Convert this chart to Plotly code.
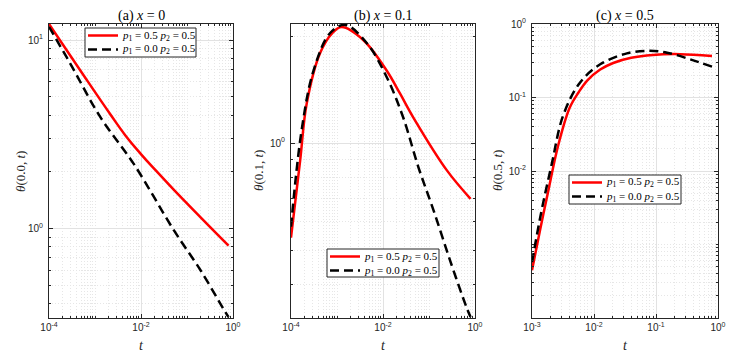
import plotly.graph_objects as go

# (a) x = 0
a_red_t = [1e-4, 4.76e-4, 2.15e-3, 4.58e-3, 9.75e-3, 2.07e-2, 5.13e-2, 0.2, 0.8]
a_red = [12.17, 6.92, 4.04, 3.12, 2.50, 2.04, 1.61, 1.144, 0.812]
a_blk_t = [1e-4, 2.88e-4, 1.30e-3, 6.9e-3, 5.25e-2, 0.2, 0.596, 0.8]
a_blk = [11.75, 7.52, 3.91, 2.21, 0.975, 0.598, 0.381, 0.339]

# (b) x = 0.1
b_red_t = [1e-4, 1.58e-4, 2.19e-4, 4.27e-4, 7.9e-4, 1.26e-3, 3.72e-3, 1.2e-2, 2.34e-2, 4.57e-2, 0.245, 0.8]
b_red = [0.542, 0.893, 1.29, 1.79, 2.04, 2.12, 1.95, 1.60, 1.379, 1.18, 0.838, 0.697]
b_blk_t = [1e-4, 1.70e-4, 3.09e-4, 7.08e-4, 1.51e-3, 4.47e-3, 1.2e-2, 2.75e-2, 5.89e-2, 0.126, 0.288, 0.66, 0.8]
b_blk = [0.582, 1.086, 1.60, 2.04, 2.15, 1.91, 1.535, 1.18, 0.855, 0.646, 0.467, 0.344, 0.324]

# (c) x = 0.5
c_red_t = [1e-3, 1.35e-3, 1.80e-3, 2.63e-3, 4.05e-3, 5.62e-3, 7.76e-3, 1.26e-2, 2.04e-2, 3.98e-2, 8.91e-2, 0.245, 0.8]
c_red = [4.47e-4, 1.58e-3, 5.01e-3, 2.19e-2, 7.24e-2, 0.117, 0.170, 0.240, 0.295, 0.347, 0.380, 0.389, 0.367]
c_blk_t = [1e-3, 1.41e-3, 2.09e-3, 3.16e-3, 5.89e-3, 1.26e-2, 3.39e-2, 7.94e-2, 0.151, 0.355, 0.8]
c_blk = [5.75e-4, 2.75e-3, 1.26e-2, 5.6e-2, 0.158, 0.283, 0.398, 0.432, 0.407, 0.331, 0.263]

titles = ["(a) <i>x</i> = 0", "(b) <i>x</i> = 0.1", "(c) <i>x</i> = 0.5"]
ylabels = ["<i>θ</i>(0.0, <i>t</i>)", "<i>θ</i>(0.1, <i>t</i>)", "<i>θ</i>(0.5, <i>t</i>)"]
name_red = "<i>p</i><sub>1</sub> = 0.5 <i>p</i><sub>2</sub> = 0.5"
name_blk = "<i>p</i><sub>1</sub> = 0.0 <i>p</i><sub>2</sub> = 0.5"

x_ticks_ab = [1e-4, 1e-2, 1]
x_text_ab = ["10<sup>-4</sup>", "10<sup>-2</sup>", "10<sup>0</sup>"]
x_ticks_c = [1e-3, 1e-2, 1e-1, 1]
x_text_c = ["10<sup>-3</sup>", "10<sup>-2</sup>", "10<sup>-1</sup>", "10<sup>0</sup>"]
y_ticks_a = [1, 10]
y_text_a = ["10<sup>0</sup>", "10<sup>1</sup>"]
y_ticks_b = [1]
y_text_b = ["10<sup>0</sup>"]
y_ticks_c = [1e-2, 1e-1, 1]
y_text_c = ["10<sup>-2</sup>", "10<sup>-1</sup>", "10<sup>0</sup>"]


def minor_vals(lo, hi, skip):
    vals = []
    for e in range(-5, 2):
        for k in range(1, 10):
            v = k * 10.0 ** e
            if lo <= v <= hi and not any(abs(v - s) / s < 1e-9 for s in skip):
                vals.append(v)
    return vals


SERIF = "Liberation Serif"
SANS = "Liberation Sans"
AX = "#262626"
RED = "#ff0000"
DASH = "9px,5px"

# the page body has an 8px margin, so the figure is drawn 8px smaller and
# every position below is given in window pixels and shifted here
OFF = 8
W, H = 735 - OFF, 356 - OFF


def px(x):
    return (x - OFF) / W


def py(y):
    return 1 - (y - OFF) / H


fig = go.Figure()

panels = [
    (a_red_t, a_red, a_blk_t, a_blk),
    (b_red_t, b_red, b_blk_t, b_blk),
    (c_red_t, c_red, c_blk_t, c_blk),
]
for i, (rt, ry, bt, by) in enumerate(panels):
    n = "" if i == 0 else str(i + 1)
    fig.add_trace(go.Scatter(x=rt, y=ry, mode="lines", name=name_red, showlegend=False,
                             line=dict(color=RED, width=2.5, shape="spline",
                                       smoothing=1.3 if i == 0 else 1.0),
                             xaxis="x" + n, yaxis="y" + n))
    fig.add_trace(go.Scatter(x=bt, y=by, mode="lines", name=name_blk, showlegend=False,
                             line=dict(color="black", width=2.5, dash=DASH, shape="spline"),
                             xaxis="x" + n, yaxis="y" + n))

x_px = [(49, 233), (291, 475), (532, 718)]
x_domains = [[px(a), px(b)] for a, b in x_px]
y_domain = [py(318), py(24)]
x_ranges = [[-4, 0], [-4, 0], [-3, 0]]
y_ranges = [[-0.474, 1.085], [-0.492, 0.335], [-4, 0]]
x_tv = [(x_ticks_ab, x_text_ab), (x_ticks_ab, x_text_ab), (x_ticks_c, x_text_c)]
y_tv = [(y_ticks_a, y_text_a), (y_ticks_b, y_text_b), (y_ticks_c, y_text_c)]

common = dict(type="log", showline=True, linecolor=AX, linewidth=1, mirror="ticks",
              ticks="inside", ticklen=4, tickcolor=AX, zeroline=False, automargin=False,
              gridcolor="#e2e2e2", gridwidth=1,
              tickfont=dict(family=SANS, size=10, color=AX))

layout = {}
for i in range(3):
    n = "" if i == 0 else str(i + 1)
    xr, yr = x_ranges[i], y_ranges[i]
    xmin = minor_vals(10 ** xr[0], 10 ** xr[1], x_tv[i][0])
    ymin = minor_vals(10 ** yr[0], 10 ** yr[1], y_tv[i][0])
    minor = dict(ticks="inside", ticklen=2, tickcolor=AX, showgrid=True,
                 gridcolor="#e6e6e6", griddash="1px,2px", gridwidth=1)
    layout["xaxis" + n] = dict(common, domain=x_domains[i], range=xr, anchor="y" + n,
                               tickmode="array", tickvals=x_tv[i][0], ticktext=x_tv[i][1],
                               minor=dict(minor, tickmode="array", tickvals=xmin))
    layout["yaxis" + n] = dict(common, domain=y_domain, range=yr, anchor="x" + n,
                               tickmode="array", tickvals=y_tv[i][0], ticktext=y_tv[i][1],
                               minor=dict(minor, tickmode="array", tickvals=ymin),
                               ticklabelstandoff=3)

annotations = []
shapes = []
ylab_x = [20, 258, 497]
for i in range(3):
    cx = (x_px[i][0] + x_px[i][1]) / 2
    annotations.append(dict(text=titles[i], x=px(cx), y=py(16), xref="paper", yref="paper",
                            xanchor="center", yanchor="middle", showarrow=False,
                            font=dict(family=SERIF, size=14, color="black")))
    annotations.append(dict(text="<i>t</i>", x=px(cx), y=py(345), xref="paper", yref="paper",
                            xanchor="center", yanchor="middle", showarrow=False,
                            font=dict(family=SERIF, size=14, color=AX)))
    annotations.append(dict(text=ylabels[i], x=px(ylab_x[i]), y=py(171), xref="paper",
                            yref="paper", xanchor="center", yanchor="middle", showarrow=False,
                            textangle=-90, font=dict(family=SERIF, size=13, color=AX)))

# legend boxes: (left, top, right, bottom) in window pixels
legend_boxes = [(85, 28, 196, 57), (327, 249, 439, 277), (569, 175, 681, 204)]
for (l, t, r, b) in legend_boxes:
    shapes.append(dict(type="rect", xref="paper", yref="paper", x0=px(l), x1=px(r),
                       y0=py(b), y1=py(t), line=dict(color=AX, width=1), fillcolor="white",
                       layer="above"))
    rows = [(t + 7.5, RED, "solid", name_red), (t + 21.5, "black", DASH, name_blk)]
    for yy, col, dash, txt in rows:
        shapes.append(dict(type="line", xref="paper", yref="paper", x0=px(l + 3), x1=px(l + 33),
                           y0=py(yy), y1=py(yy), line=dict(color=col, width=2.5, dash=dash),
                           layer="above"))
        annotations.append(dict(text=txt, x=px(l + 35), y=py(yy), xref="paper", yref="paper",
                                xanchor="left", yanchor="middle", showarrow=False,
                                font=dict(family=SERIF, size=11, color="black")))

fig.update_layout(**layout)
fig.update_layout(width=W, height=H, margin=dict(l=0, r=0, t=0, b=0),
                  paper_bgcolor="white", plot_bgcolor="white",
                  annotations=annotations, shapes=shapes, showlegend=False)

fig.write_html("out.html")
